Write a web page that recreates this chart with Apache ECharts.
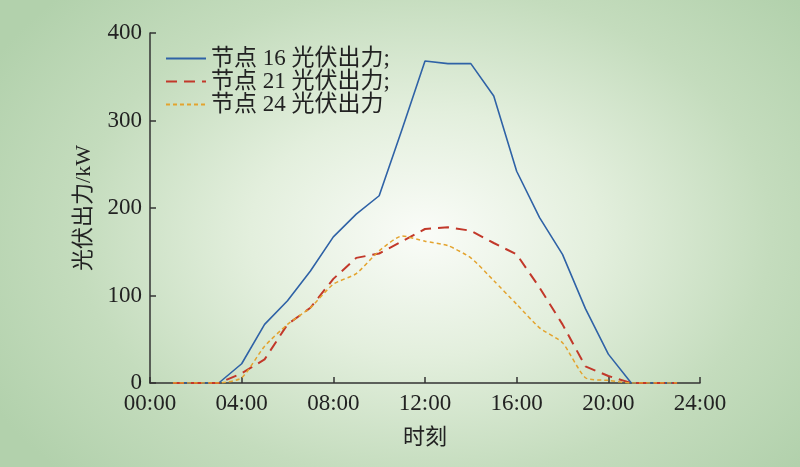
<!DOCTYPE html>
<html>
<head>
<meta charset="utf-8">
<script src="https://cdn.jsdelivr.net/npm/echarts@6/dist/echarts.min.js"></script>
<style>
html, body { margin: 0; padding: 0; }
#main {
    width: 800px; height: 467px;
    background: radial-gradient(ellipse 62% 75% at 53% 50%, #fafcf8 0%, #e3efdd 35%, #c4dcbd 70%, #b2d1ac 100%);
}
</style>
</head>
<body>
<div id="main"></div>
<script>
// 时刻（小时）
var hours = [1, 2, 3, 4, 5, 6, 7, 8, 9, 10, 11, 12, 13, 14, 15, 16, 17, 18, 19, 20, 21, 22, 23];
// 各节点光伏出力 kW
var node16 = [0, 0, 0, 22, 67, 94, 128, 167, 193, 214, 290, 368, 365, 365, 328, 242, 189, 147, 85, 33, 0, 0, 0];
var node21 = [0, 0, 0, 11, 27, 67, 86, 119, 143, 148, 162, 176, 178, 174, 160, 147, 109, 67, 19, 8, 0, 0, 0];
var node24 = [0, 0, 0, 6, 42, 67, 86, 113, 125, 151, 168, 162, 157, 143, 117, 90, 63, 46, 6, 3, 0, 0, 0];
var seriesNames = ['节点 16 光伏出力;', '节点 21 光伏出力;', '节点 24 光伏出力'];
var xTickLabels = ['00:00', '04:00', '08:00', '12:00', '16:00', '20:00', '24:00'];

var fontFamily = '"Liberation Serif", "Noto Sans CJK SC", serif';

function pairs(vals) {
    return hours.map(function (h, i) { return [h, vals[i]]; });
}

var chart = echarts.init(document.getElementById('main'));

var option = {
    backgroundColor: 'transparent',
    animation: false,
    grid: { left: 150, right: 100, top: 33, bottom: 84 },
    legend: {
        orient: 'vertical',
        left: 160,
        top: 42,
        itemWidth: 40,
        itemHeight: 12,
        itemGap: 0,
        itemStyle: { opacity: 0 },
        textStyle: { fontFamily: fontFamily, fontSize: 23, color: '#222' },
        data: seriesNames
    },
    xAxis: {
        type: 'value',
        min: 0,
        max: 24,
        interval: 4,
        name: '时刻',
        nameLocation: 'middle',
        nameGap: 44,
        nameTextStyle: { fontFamily: fontFamily, fontSize: 22, color: '#222' },
        axisLine: { lineStyle: { color: '#333', width: 1.5 } },
        axisTick: { inside: true, length: 6, lineStyle: { color: '#333', width: 1.5 } },
        axisLabel: {
            fontFamily: fontFamily, fontSize: 23, color: '#222', margin: 9,
            formatter: function (v) { return xTickLabels[v / 4]; }
        },
        splitLine: { show: false }
    },
    yAxis: {
        type: 'value',
        min: 0,
        max: 400,
        interval: 100,
        name: '光伏出力/kW',
        nameLocation: 'middle',
        nameGap: 55,
        nameTextStyle: { fontFamily: fontFamily, fontSize: 22, color: '#222' },
        axisLine: { show: true, lineStyle: { color: '#333', width: 1.5 } },
        axisTick: { show: true, inside: true, length: 6, lineStyle: { color: '#333', width: 1.5 } },
        axisLabel: { fontFamily: fontFamily, fontSize: 23, color: '#222', margin: 8 },
        splitLine: { show: false }
    },
    series: [
        {
            name: seriesNames[0],
            type: 'line',
            symbol: 'none',
            data: pairs(node16),
            lineStyle: { color: '#2f62a6', width: 1.6, type: 'solid' },
            itemStyle: { color: '#2f62a6' }
        },
        {
            name: seriesNames[1],
            type: 'line',
            symbol: 'none',
            data: pairs(node21),
            lineStyle: { color: '#c2382a', width: 2, type: [11, 7] },
            itemStyle: { color: '#c2382a' }
        },
        {
            name: seriesNames[2],
            type: 'line',
            symbol: 'none',
            smooth: 0.2,
            data: pairs(node24),
            lineStyle: { color: '#e3a32e', width: 1.5, type: [4, 3] },
            itemStyle: { color: '#e3a32e' }
        }
    ]
};

chart.setOption(option);
</script>
</body>
</html>
